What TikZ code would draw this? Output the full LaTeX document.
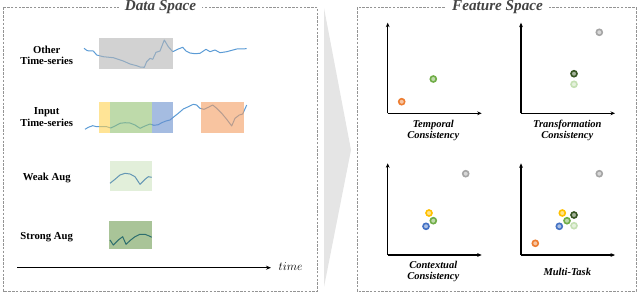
\documentclass[tikz,border=0pt]{standalone}
\usepackage{fontspec}
\setmainfont{Liberation Serif}
\usetikzlibrary{arrows.meta}
\definecolor{tsblue}{RGB}{91,155,213}
\definecolor{boxgray}{RGB}{180,180,180}
\definecolor{boxyellow}{RGB}{255,210,80}
\definecolor{boxgreen}{RGB}{147,193,113}
\definecolor{boxblue}{RGB}{105,143,205}
\definecolor{boxorange}{RGB}{243,157,97}
\definecolor{weakfill}{RGB}{226,239,218}
\definecolor{weakline}{RGB}{100,150,180}
\definecolor{strongfill}{RGB}{169,196,152}
\definecolor{strongline}{RGB}{45,110,110}
\definecolor{ptorange}{RGB}{237,125,49}
\definecolor{ptgreen}{RGB}{112,173,71}
\definecolor{ptyellow}{RGB}{255,192,0}
\definecolor{ptblue}{RGB}{68,114,196}
\definecolor{ptgray}{RGB}{165,165,165}
\definecolor{ptdark}{RGB}{55,86,35}
\definecolor{ptlight}{RGB}{197,224,180}
\definecolor{titlegray}{RGB}{68,68,68}
\definecolor{wedge}{RGB}{229,229,229}
\begin{document}
\begin{tikzpicture}[x=1pt,y=-1pt,
  panel/.style={draw=black!42, dash pattern=on 2.5pt off 1.3pt, line width=0.8pt},
  paneltitle/.style={fill=white, inner xsep=6pt, inner ysep=1pt, text=titlegray,
    font=\bfseries\itshape\fontsize{15.2}{16}\selectfont},
  rowlab/.style={align=center, font=\bfseries\fontsize{10.7}{11.5}\selectfont},
  plotlab/.style={align=center, font=\bfseries\itshape\fontsize{10.5}{11.5}\selectfont},
  ts/.style={draw=tsblue, line width=1pt, line join=round},
  seg/.style={fill=#1, fill opacity=0.6, draw=none},
  axis/.style={line width=1.1pt, -{Stealth[length=4.5pt,width=3.8pt]}},
  pt/.style={circle, minimum size=6pt, inner sep=0pt, draw=#1, line width=1.6pt, fill=#1!45},
]
\useasboundingbox (0,0) rectangle (640,293);

% ---------- Data space ----------
\draw[panel] (3,7.5) rectangle (317.5,291);
\node[paneltitle] (dstitle) at (160.5,7.3) {Data Space};

\node[rowlab] (other) at (46.7,55.5) {Other\\Time-series};
\node[rowlab] (input) at (46.7,117) {Input\\Time-series};
\node[rowlab] (weak) at (46.7,177.7) {Weak Aug};
\node[rowlab] (strong) at (46.7,236.7) {Strong Aug};

% other time series
\draw[ts] (84,48.3)--(87.3,50.7)--(93.3,51)--(96.7,55)--(103.3,56.7)--(113.3,57.7)--(123.3,61)--(130,64)--(136.7,65.7)--(140,67)--(144.3,67.3)--(146.7,61.7)--(150,58.3)--(152.7,59.3)--(156,52.3)--(160,51)--(164.3,40)--(168.3,46.7)--(172.7,51.7)--(178.3,49)--(182.7,47.3)--(186,51)--(190,53)--(195,53.7)--(200,53.3)--(206,49.3)--(210,51.7)--(215,50)--(220,52.7)--(226.7,51.7)--(236.7,49)--(246.7,48.7);
\fill[seg=boxgray] (99,38.3) rectangle (172.7,69);

% input time series
\draw[ts] (85,129.3)--(88.3,127.3)--(92.7,125.7)--(96.7,126.7)--(101.7,126.7)--(106.7,126.7)--(110.7,128)--(115,126)--(120,123.3)--(125,122.7)--(130,123)--(135,125)--(140,128.3)--(145,126)--(150,124)--(154,125.3)--(158.3,124.7)--(161.7,122.7)--(166,121)--(170,120)--(174,116.7)--(178.3,113.3)--(183.3,109)--(188.3,106.7)--(193.3,104.3)--(196.7,105)--(200,108.3)--(204,109.3)--(208.3,107.3)--(212.7,105)--(216.7,108.3)--(221.7,113.3)--(226.7,119.3)--(231.7,126)--(235,118.3)--(239.3,115)--(242.7,114)--(246.7,105);
\fill[seg=boxyellow] (99,102.3) rectangle (110,132.7);
\fill[seg=boxgreen] (110,102.3) rectangle (151.7,132.7);
\fill[seg=boxblue] (151.7,102.3) rectangle (172.7,132.7);
\fill[seg=boxorange] (200.7,102.3) rectangle (244,132.7);

% weak aug
\fill[weakfill] (109.7,160.7) rectangle (151.7,190.7);
\draw[draw=weakline, line width=1pt, line join=round] (110,183.3)--(115,179.3)--(120,175)--(125,173.3)--(130,174)--(135,176.7)--(140,184.3)--(145,179.3)--(148.3,176.7)--(151.7,177.3);

% strong aug
\fill[strongfill] (109,220.7) rectangle (151.7,249.3);
\draw[draw=strongline, line width=1pt, line join=round] (110,240)--(113.3,245)--(118.3,240)--(122.7,236.7)--(126,244.3)--(130.7,240)--(135,236.7)--(140,234.3)--(145,234.3)--(149.3,236)--(151.7,237.3);

% time arrow
\coordinate (tstart) at (17,267.7);
\coordinate (tend) at (271,267.7);
\draw[line width=1.2pt, -{Stealth[length=5pt,width=4pt]}] (tstart) -- (tend);
\node (timelab) at (290.5,266.5) {\fontsize{12}{12}\selectfont$time$};

% ---------- wedge ----------
\fill[wedge] (324,8) -- (351,150) -- (324,287) -- cycle;

% ---------- Feature space ----------
\draw[panel] (357,7.5) rectangle (636,291);
\node[paneltitle] (fstitle) at (497.5,7.3) {Feature Space};

% plot axes
\coordinate (o1) at (387.7,113.3);
\coordinate (o2) at (521,113.3);
\coordinate (o3) at (387.7,255);
\coordinate (o4) at (521,255);
\coordinate (y1) at (387.7,22.7);
\coordinate (y2) at (521,22.7);
\coordinate (y3) at (387.7,163.3);
\coordinate (y4) at (521,163.3);
\coordinate (x1) at (481.7,113.3);
\coordinate (x2) at (615,113.3);
\coordinate (x3) at (481.7,255);
\coordinate (x4) at (615,255);
\foreach \i in {1,2,3,4}{
  \draw[axis] (o\i) -- (y\i);
  \draw[axis] (o\i) -- (x\i);
}

\node[plotlab] (l1) at (433.3,130.5) {Temporal\\Consistency};
\node[plotlab] (l2) at (567.3,130.5) {Transformation\\Consistency};
\node[plotlab] (l3) at (433.3,271.7) {Contextual\\Consistency};
\node[plotlab] (l4) at (567.3,271.7) {Multi-Task};

% points: temporal
\node[pt=ptorange] (a1) at (401.7,101.7) {};
\node[pt=ptgreen] (a2) at (433.3,79) {};
% transformation
\node[pt=ptgray] (b1) at (599.3,32.3) {};
\node[pt=ptdark] (b2) at (574,73.7) {};
\node[pt=ptlight] (b3) at (574,84.3) {};
% contextual
\node[pt=ptgray] (c1) at (465.7,173.7) {};
\node[pt=ptyellow] (c2) at (429,213) {};
\node[pt=ptgreen] (c3) at (433.3,220.7) {};
\node[pt=ptblue] (c4) at (426,226.3) {};
% multi-task
\node[pt=ptgray] (d1) at (599.3,173.7) {};
\node[pt=ptyellow] (d2) at (562.3,213) {};
\node[pt=ptdark] (d3) at (574,215) {};
\node[pt=ptgreen] (d4) at (567,220.7) {};
\node[pt=ptlight] (d5) at (574,225.7) {};
\node[pt=ptblue] (d6) at (559.3,226.3) {};
\node[pt=ptorange] (d7) at (535.3,243.3) {};
\end{tikzpicture}
\end{document}
